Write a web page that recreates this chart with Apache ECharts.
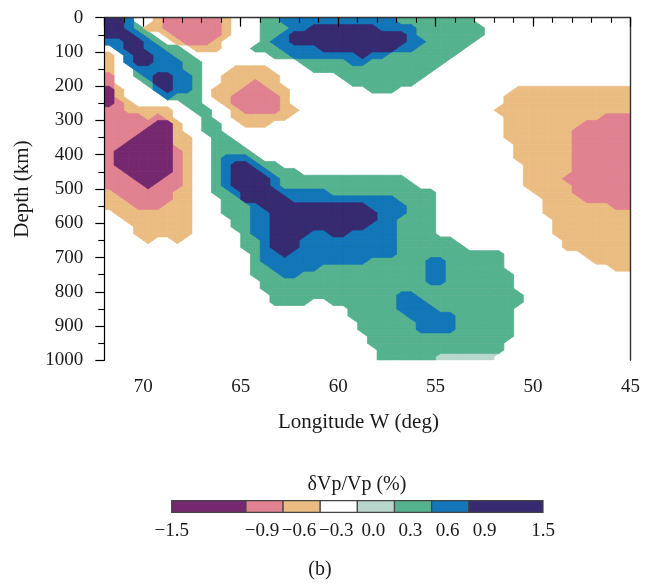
<!DOCTYPE html>
<html>
<head>
<meta charset="utf-8">
<script src="https://cdn.jsdelivr.net/npm/echarts@6/dist/echarts.min.js"></script>
<style>
html,body{margin:0;padding:0;background:#fff;}
#chart{width:653px;height:584px;}
</style>
</head>
<body>
<div id="chart"></div>
<script>
// ---- data ----
// cell-centre longitudes (deg W), columns left to right
const longitudes = [71.75,71.25,70.75,70.25,69.75,69.25,68.75,68.25,67.75,67.25,66.75,66.25,65.75,65.25,64.75,64.25,63.75,63.25,62.75,62.25,61.75,61.25,60.75,60.25,59.75,59.25,58.75,58.25,57.75,57.25,56.75,56.25,55.75,55.25,54.75,54.25,53.75,53.25,52.75,52.25,51.75,51.25,50.75,50.25,49.75,49.25,48.75,48.25,47.75,47.25,46.75,46.25,45.75,45.25];
// cell-centre depths (km), rows top to bottom
const depths = [10,30,50,70,90,110,130,150,170,190,210,230,250,270,290,310,330,350,370,390,410,430,450,470,490,510,530,550,570,590,610,630,650,670,690,710,730,750,770,790,810,830,850,870,890,910,930,950,970,990];
// dVp/Vp class read per cell: P<-0.9, K -0.9..-0.6, O -0.6..-0.3, . -0.3..0, L 0..0.3, G 0.3..0.6, B 0.6..0.9, N >0.9
const classValue = {P:-1.2, K:-0.75, O:-0.45, '.':-0.15, L:0.15, G:0.45, B:0.75, N:1.2};
const rows = [
"NNB..OKKKKKKO...GGBBBBBBBBBBBBGGGGGGGG................",
"NNBGOOKKKKKKO...GGGBBNNNNNNNBBBBGGGGGGG...............",
"NNNBG.OKKKKKO...GGBNNNNNNNNNNNNBGGGGGGG...............",
"BBNNBG.OKKKO....GBBNNNNNNNNNNNNBBGGGGG................",
".BNNBBGG.OOO...GGGBBBBNNNNNNNNBBGGGGG.................",
"O.BNNBBGG........GGBBBBBBBNBBGGGGGGG..................",
"O.BNNBBBGG..........GGGGGBBGGGGGGGG...................",
"O..BBBBBGG...OOOO....GGGGGGGGGGGGG....................",
"K..GBNNBBG..OOOOOO......GGGGGGGGG.....................",
"K...GNNBBG..OOOKOO.......GGGGGGG......................",
"PO...BNBBG.OOOKKKOO........GGG............OOOOOOOOOOOO",
"PO....BGGG.OOKKKKKO......................OOOOOOOOOOOOO",
"PKO.....GG..OKKKKKO......................OOOOOOOOOOOOO",
"KKOOOOO..GG..OKKKKOO....................OOOOOOOOOOOOOO",
"KKKKOKO...G..OOOOOO......................OOOOOOOOOOKKK",
"KKKKKPPO..GG..OOO........................OOOOOOOOKKKKK",
"KKKKPPPO..GG.............................OOOOOOOKKKKKK",
"KKKPPPPOO..GG............................OOOOOOOKKKKKK",
"KKPPPPPOO..GGG............................OOOOOOKKKKKK",
"KPPPPPPKO..GGGG...........................OOOOOOKKKKKK",
"KPPPPPPKO..GBBBG..........................OOOOOOKKKKKK",
"KPPPPPPKO..GBNNBGG.........................OOOOOKKKKKK",
"KKPPPPPKO..GBNNNBGGG.......................OOOOOKKKKKK",
"KKKPPPKKO..GBNNNNBGGGGGGGGGGGGG............OOOOKKKKKKK",
"KKKKPKKKO..GBNNNNBGGGGGGGGGGGGGG...........OOOOOKKKKKK",
"OKKKKKKOO..GGBNNNNBBBBBGGGGGGGGGGG..........OOOOKKKKKK",
"OOKKKKKOO...GGNNNNNBBBBBBBBBBBGGGG...........OOOOKKKKK",
"OOOKKKOOO...GGGBNNNNNNNNNNNBBBBGGG...........OOOOOOOKK",
".OOOOOOOO...GGGBBNNNNNNNNNNNBBBGGG...........OOOOOOOOO",
"..OOOOOOO....GGBBNNNNNNNNNNNBBGGGG............OOOOOOOO",
"...OOOOOO....GGBBNNNNNNNNNNBBBGGGG............OOOOOOOO",
"...OOOOOO.....GBBNNNNBBNNBBBBBGGGG............OOOOOOOO",
"....O..O......GGBNNNBBBBBBBBBBGGGGGG...........OOOOOOO",
"..............GGBNNNBBBBBBBBBBGGGGGGG..........OOOOOOO",
"...............GBBNBBBBBBBBBBBGGGGGGGGGGG........OOOOO",
"...............GBBBBBBBBBBBGGGGGGBBGGGGGG.........OOOO",
"...............GGBBBBBGGGGGGGGGGGBBGGGGGG...........OO",
"...............GGGBBGGGGGGGGGGGGGBBGGGGGGG............",
"................GGGGGGGGGGGGGGGGGBBGGGGGGG............",
"................GGGGGGGGGGGGGGGGGGGGGGGGGG............",
".................GGGGGGGGGGGGGBBGGGGGGGGGGG...........",
".................GGGG..GGGGGGGBBBGGGGGGGGGG...........",
".........................GGGGGBBBBGGGGGGGG............",
".........................GGGGGGBBBBBGGGGGG............",
"..........................GGGGGGBBBBGGGGGG............",
"..........................GGGGGGBBBBGGGGGG............",
"...........................GGGGGGGGGGGGGGG............",
"...........................GGGGGGGGGGGGGG.............",
"............................GGGGGGGGGGGGG.............",
"............................GGGGGGLLLLLL.............."
];
// colour classes of the scale
const levelBounds = [-1.5,-0.9,-0.6,-0.3,0.0,0.3,0.6,0.9,1.5];
const levelColors = ['#75286f','#e08291','#ebbc82','#ffffff','#b9d6cd','#55b28e','#1276b8','#372a70'];
const xTickLabels = [70,65,60,55,50,45];
const yTickLabels = [0,100,200,300,400,500,600,700,800,900,1000];
const cbTickLabels = [-1.5,-0.9,-0.6,-0.3,0.0,0.3,0.6,0.9,1.5];

// ---- build ----
const LON_MIN = 45, LON_MAX = 72, DEP_MIN = 0, DEP_MAX = 1000;
rows.forEach((r, j) => { if (r.length !== longitudes.length) throw new Error('row ' + j + ' has length ' + r.length); });
function levelIndex(v) {
  for (let k = 0; k < levelColors.length; k++) {
    if (v >= levelBounds[k] && v < levelBounds[k + 1]) return k;
  }
  return v < levelBounds[0] ? 0 : levelColors.length - 1;
}
// node grid = cell centres, edged by the axis extents (edge nodes take the neighbouring cell's class)
const nodeLon = [LON_MAX].concat(longitudes, [LON_MIN]);
const nodeDep = [DEP_MIN].concat(depths, [DEP_MAX]);
const clampI = (i, n) => Math.max(0, Math.min(n - 1, i));
const nodeIdx = nodeDep.map((d, b) => nodeLon.map((l, a) => {
  const r = rows[clampI(b - 1, rows.length)];
  return levelIndex(classValue[r[clampI(a - 1, r.length)]]);
}));
// painting order: positive classes from the middle out, then negative classes from the middle out
const paintLevels = [4, 5, 6, 7, 2, 1, 0];

const FONT = 'Liberation Serif';
const TXT = '#1a1a1a';

function renderLevel(params, api) {
  const k = api.value(0);
  const order = api.value(1);
  const inside = (b, a) => (k >= 4 ? nodeIdx[b][a] >= k : nodeIdx[b][a] <= k);
  const children = [];
  const color = levelColors[k];
  for (let b = 0; b < nodeDep.length - 1; b++) {
    for (let a = 0; a < nodeLon.length - 1; a++) {
      const c = [[b, a], [b, a + 1], [b + 1, a + 1], [b + 1, a]];
      const ins = c.map(p => inside(p[0], p[1]));
      if (!ins[0] && !ins[1] && !ins[2] && !ins[3]) continue;
      const pts = [];
      for (let m = 0; m < 4; m++) {
        const p = c[m], q = c[(m + 1) % 4];
        if (ins[m]) pts.push(api.coord([nodeLon[p[1]], nodeDep[p[0]]]));
        if (ins[m] !== ins[(m + 1) % 4]) {
          pts.push(api.coord([(nodeLon[p[1]] + nodeLon[q[1]]) / 2, (nodeDep[p[0]] + nodeDep[q[0]]) / 2]));
        }
      }
      children.push({type: 'polygon', z2: order, shape: {points: pts},
        style: {fill: color, stroke: color, lineWidth: 0.6}});
    }
  }
  return {type: 'group', children: children};
}

const chart = echarts.init(document.getElementById('chart'), null, {renderer: 'canvas'});
chart.setOption({
  animation: false,
  backgroundColor: '#ffffff',
  grid: [
    {left: 104.3, top: 17.7, right: 22.5, bottom: 223.7},
    {left: 171.7, top: 500.7, width: 371.3, height: 11.6}
  ],
  xAxis: [
    { // main longitude axis
      type: 'value', gridIndex: 0, position: 'bottom', min: LON_MIN, max: LON_MAX, inverse: true, interval: 5, z: 5,
      axisLine: {show: true, lineStyle: {color: '#000', width: 1.2}},
      axisTick: {show: true, length: 9, lineStyle: {color: '#000', width: 1.2}},
      axisLabel: {show: true, margin: 17, fontFamily: FONT, fontSize: 19, color: TXT,
        formatter: v => (xTickLabels.indexOf(v) >= 0 ? String(v) : '')},
      splitLine: {show: false},
      name: 'Longitude W (deg)', nameLocation: 'middle', nameGap: 52,
      nameTextStyle: {fontFamily: FONT, fontSize: 21, color: TXT, padding: [0, 18, 0, 0]}
    },
    { // minor ticks every degree
      type: 'value', gridIndex: 0, position: 'bottom', min: LON_MIN, max: LON_MAX, inverse: true, interval: 1, z: 5,
      axisLine: {show: false}, axisLabel: {show: false}, splitLine: {show: false},
      axisTick: {show: true, length: 5, lineStyle: {color: '#000', width: 1.1}}
    },
    { // top frame
      type: 'value', gridIndex: 0, position: 'top', min: LON_MIN, max: LON_MAX, inverse: true, z: 5,
      axisLine: {show: true, lineStyle: {color: '#333', width: 1.4}},
      axisTick: {show: false}, axisLabel: {show: false}, splitLine: {show: false}
    },
    { // colour bar axis
      type: 'value', gridIndex: 1, min: -1.5, max: 1.5, interval: 0.3,
      axisLine: {show: false}, axisTick: {show: false}, splitLine: {show: false},
      axisLabel: {show: true, margin: 9, fontFamily: FONT, fontSize: 19, color: TXT,
        formatter: v => {
          const t = cbTickLabels.find(x => Math.abs(x - v) < 1e-6);
          if (t === undefined) return '';
          const s = (t < 0 ? '\u2212' : '') + Math.abs(t).toFixed(1);
          const isEnd = (t === cbTickLabels[0] || t === cbTickLabels[cbTickLabels.length - 1]);
          return isEnd ? '{e|' + s + '}' : '{m|' + s + '}';
        },
        rich: {
          e: {fontFamily: FONT, fontSize: 19, color: TXT},
          m: {fontFamily: FONT, fontSize: 19, color: TXT, padding: [0, 0, 0, 32]}
        }
      }
    }
  ],
  yAxis: [
    {
      type: 'value', gridIndex: 0, position: 'left', min: DEP_MIN, max: DEP_MAX, inverse: true, interval: 100, z: 5,
      axisLine: {show: true, lineStyle: {color: '#000', width: 1.2}},
      axisTick: {show: true, length: 9, lineStyle: {color: '#000', width: 1.2}},
      minorTick: {show: true, splitNumber: 2, length: 6, lineStyle: {color: '#000', width: 1.1}},
      axisLabel: {show: true, margin: 21, fontFamily: FONT, fontSize: 19, color: TXT,
        formatter: v => (yTickLabels.indexOf(v) >= 0 ? String(v) : '')},
      splitLine: {show: false}, minorSplitLine: {show: false},
      name: 'Depth (km)', nameLocation: 'middle', nameGap: 71,
      nameTextStyle: {fontFamily: FONT, fontSize: 21, color: TXT}
    },
    { // right frame
      type: 'value', gridIndex: 0, position: 'right', min: DEP_MIN, max: DEP_MAX, inverse: true, z: 5,
      axisLine: {show: true, lineStyle: {color: '#333', width: 1.4}},
      axisTick: {show: false}, axisLabel: {show: false}, splitLine: {show: false}
    },
    {
      type: 'value', gridIndex: 1, min: 0, max: 1, show: false
    }
  ],
  series: [
    {
      type: 'custom', xAxisIndex: 0, yAxisIndex: 0, z: 1, clip: true,
      data: paintLevels.map((k, i) => [k, i]),
      renderItem: renderLevel
    },
    {
      type: 'custom', xAxisIndex: 3, yAxisIndex: 2, z: 2,
      data: levelColors.map((c, k) => [levelBounds[k], levelBounds[k + 1], k]),
      renderItem: (params, api) => {
        const a = api.coord([api.value(0), 1]);
        const b = api.coord([api.value(1), 0]);
        return {
          type: 'rect',
          shape: {x: a[0], y: a[1], width: b[0] - a[0], height: b[1] - a[1]},
          style: {fill: levelColors[api.value(2)], stroke: '#444', lineWidth: 1.2}
        };
      }
    }
  ],
  graphic: [
    {type: 'text', x: 357, y: 485, style: {text: '\u03b4Vp/Vp (%)', fontFamily: FONT, fontSize: 20, fill: TXT, textAlign: 'center', textVerticalAlign: 'middle'}},
    {type: 'text', x: 320, y: 570, style: {text: '(b)', fontFamily: FONT, fontSize: 20, fill: TXT, textAlign: 'center', textVerticalAlign: 'middle'}}
  ]
});
</script>
</body>
</html>
